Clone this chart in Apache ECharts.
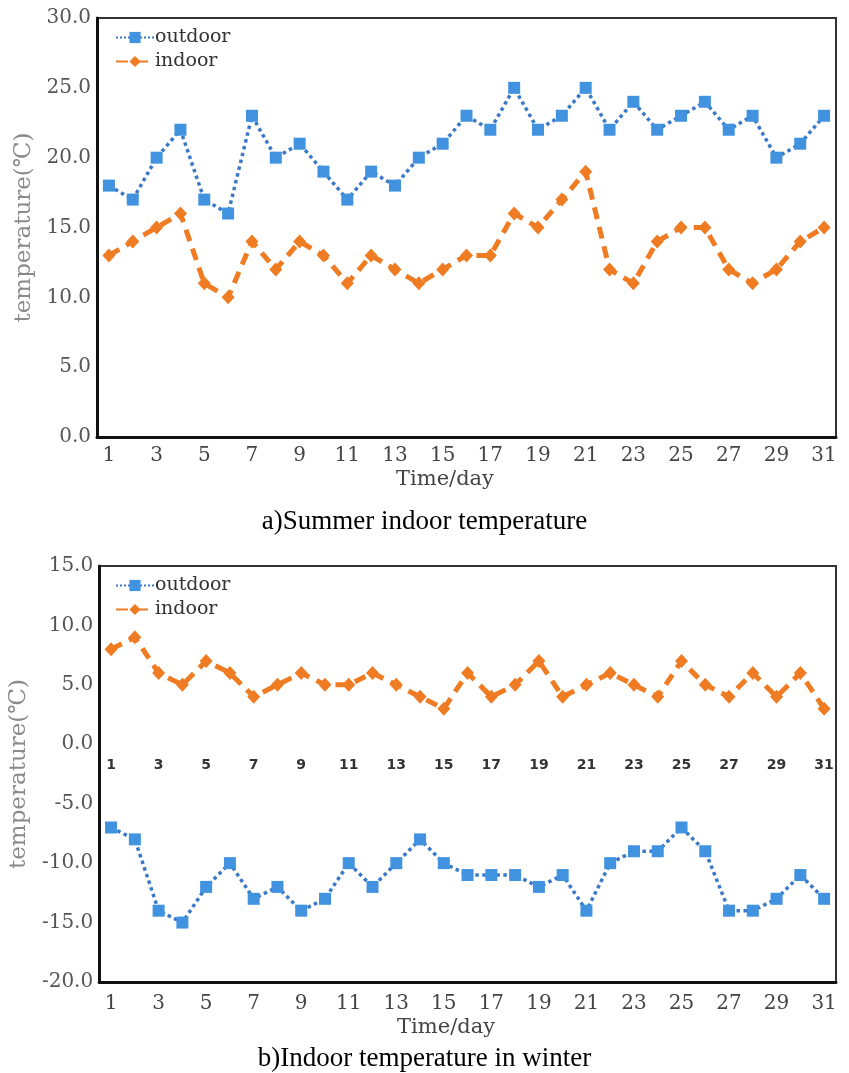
<!DOCTYPE html>
<html>
<head>
<meta charset="utf-8">
<script src="https://cdn.jsdelivr.net/npm/echarts@6/dist/echarts.min.js"></script>
<style>
html,body{margin:0;padding:0;background:#fff;}
#c{width:849px;height:1073px;}
</style>
</head>
<body>
<div id="c"></div>
<script>
const days = ['1','2','3','4','5','6','7','8','9','10','11','12','13','14','15','16','17','18','19','20','21','22','23','24','25','26','27','28','29','30','31'];
const summerOutdoor = [18,17,20,22,17,16,23,20,21,19,17,19,18,20,21,23,22,25,22,23,25,22,24,22,23,24,22,23,20,21,23];
const summerIndoor  = [13,14,15,16,11,10,14,12,14,13,11,13,12,11,12,13,13,16,15,17,19,12,11,14,15,15,12,11,12,14,15];
const winterOutdoor = [-7,-8,-14,-15,-12,-10,-13,-12,-14,-13,-10,-12,-10,-8,-10,-11,-11,-11,-12,-11,-14,-10,-9,-9,-7,-9,-14,-14,-13,-11,-13];
const winterIndoor  = [8,9,6,5,7,6,4,5,6,5,5,6,5,4,3,6,4,5,7,4,5,6,5,4,7,5,4,6,4,6,3];
const summerY = {min:0, max:30, interval:5};
const winterY = {min:-20, max:15, interval:5};
const captions = ['a)Summer indoor temperature', 'b)Indoor temperature in winter'];
const seriesNames = ['outdoor', 'indoor'];
const yName = 'temperature(℃)';
const xName = 'Time/day';

const BLUE = '#4193e0', BLUE_LINE = '#3a78c8', ORANGE = '#ef7b22';
const serif = 'DejaVu Serif';

function yAxisCfg(gi, r){
  return {
    type:'value', gridIndex:gi, min:r.min, max:r.max, interval:r.interval,
    name:yName, nameLocation:'middle', nameGap:52,
    nameTextStyle:{fontFamily:serif, fontSize:23, color:'#8a8a8a'},
    axisLine:{show:true, lineStyle:{color:'#111', width:3}},
    axisTick:{show:false}, splitLine:{show:false},
    axisLabel:{fontFamily:serif, fontSize:20, color:'#555', margin:6, formatter:v=>v.toFixed(1)}
  };
}
function xAxisBottom(gi, margin, gap){
  return {
    type:'category', gridIndex:gi, data:days, boundaryGap:true, position:'bottom',
    name:xName, nameLocation:'middle', nameGap:gap,
    nameTextStyle:{fontFamily:serif, fontSize:21, color:'#444', padding:[0,43,0,0]},
    axisLine:{show:true, onZero:false, lineStyle:{color:'#111', width:3}},
    axisTick:{show:false},
    axisLabel:{interval:1, fontFamily:serif, fontSize:20, color:'#444', margin:margin}
  };
}
function outdoorSeries(xi, yi, data){
  return {name:seriesNames[0], type:'line', xAxisIndex:xi, yAxisIndex:yi, data:data,
    symbol:'rect', symbolSize:12, itemStyle:{color:BLUE},
    lineStyle:{color:BLUE_LINE, width:3.5, type:'dotted'}, z:3};
}
function indoorSeries(xi, yi, data){
  return {name:seriesNames[1], type:'line', xAxisIndex:xi, yAxisIndex:yi, data:data,
    symbol:'diamond', symbolSize:[13,14], itemStyle:{color:ORANGE},
    lineStyle:{color:ORANGE, width:5, type:[12,8]}, z:4};
}

const chart = echarts.init(document.getElementById('c'), null, {renderer:'canvas'});
chart.setOption({
  animation:false,
  backgroundColor:'#fff',
  title:[
    {text:captions[0], left:'center', top:503, textStyle:{fontFamily:'Liberation Serif', fontSize:27, fontWeight:'normal', color:'#000'}},
    {text:captions[1], left:'center', top:1040, textStyle:{fontFamily:'Liberation Serif', fontSize:27, fontWeight:'normal', color:'#000'}}
  ],
  legend:[
    {orient:'vertical', left:110, top:23, itemWidth:38, itemHeight:14, itemGap:5,
     data:seriesNames, textStyle:{fontFamily:serif, fontSize:19, color:'#333', padding:[0,0,0,-4]}},
    {orient:'vertical', left:110, top:571, itemWidth:38, itemHeight:14, itemGap:5,
     data:seriesNames, textStyle:{fontFamily:serif, fontSize:19, color:'#333', padding:[0,0,0,-4]}}
  ],
  grid:[
    {left:97, right:13, top:18, height:419, show:true, borderColor:'#333', borderWidth:2, backgroundColor:'#fff'},
    {left:97, right:13, top:566, height:416, show:true, borderColor:'#333', borderWidth:2, backgroundColor:'#fff'}
  ],
  xAxis:[
    xAxisBottom(0, 9, 32),
    {
      type:'category', gridIndex:1, data:days, boundaryGap:true, position:'bottom', offset:-238,
      axisLine:{show:false, onZero:false}, axisTick:{show:false},
      axisLabel:{interval:1, fontFamily:'DejaVu Sans', fontSize:14, fontWeight:'bold', color:'#333', margin:14}
    },
    xAxisBottom(1, 12, 35)
  ],
  yAxis:[ yAxisCfg(0, summerY), yAxisCfg(1, winterY) ],
  series:[
    outdoorSeries(0,0,summerOutdoor),
    indoorSeries(0,0,summerIndoor),
    outdoorSeries(1,1,winterOutdoor),
    indoorSeries(1,1,winterIndoor)
  ]
});
</script>
</body>
</html>
